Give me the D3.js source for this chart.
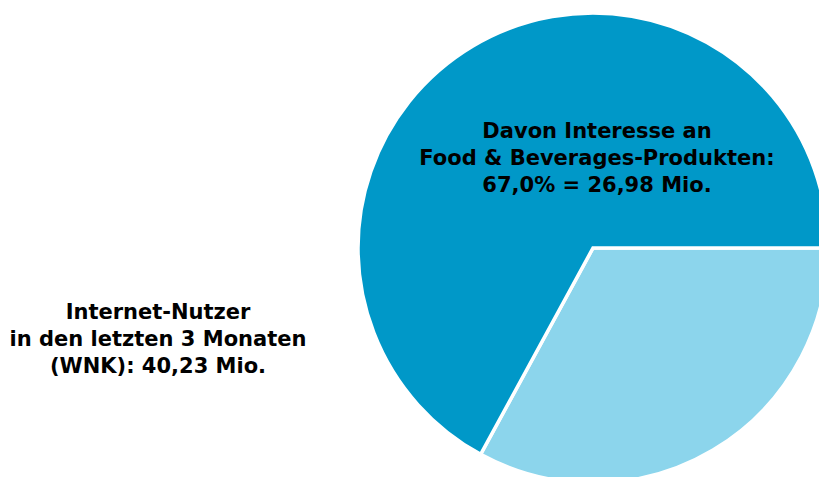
<!DOCTYPE html>
<html>
<head>
<meta charset="utf-8">
<script src="https://cdn.jsdelivr.net/npm/d3@7/dist/d3.min.js"></script>
<style>
  html, body { margin: 0; padding: 0; background: #fff; }
  svg { display: block; }
  text { font-family: "DejaVu Sans", Verdana, sans-serif; font-weight: bold; fill: #000; }
</style>
</head>
<body>
<svg id="chart" width="819" height="477"></svg>
<script>
// Internet users (WNK) split by interest in food & beverage products, in millions
const totalUsers = 40.23;
const segments = ["Kein Interesse", "Interesse an Food & Beverages"];
const segmentValues = [13.25, 26.98];
const segmentColors = ["#8cd5ec", "#0098c8"];

const interestLabel = ["Davon Interesse an", "Food & Beverages-Produkten:", "67,0% = 26,98 Mio."];
const totalLabel = ["Internet-Nutzer", "in den letzten 3 Monaten", "(WNK): 40,23 Mio."];

const svg = d3.select("#chart");
const cx = 593, cy = 248, radius = 235;

const pie = d3.pie()
  .sort(null)
  .value(d => d)
  .startAngle(Math.PI / 2)
  .endAngle(Math.PI / 2 + 2 * Math.PI);

const arc = d3.arc().innerRadius(0).outerRadius(radius);

const g = svg.append("g").attr("transform", `translate(${cx},${cy})`);

g.selectAll("path")
  .data(pie(segmentValues))
  .join("path")
  .attr("d", arc)
  .attr("fill", (d, i) => segmentColors[i])
  .attr("stroke", "#fff")
  .attr("stroke-width", 3.5)
  .attr("stroke-linejoin", "miter");

function block(lines, x, y0, step, size) {
  const t = svg.append("text")
    .attr("text-anchor", "middle")
    .style("font-size", size + "px");
  lines.forEach((s, i) => {
    t.append("tspan").attr("x", x).attr("y", y0 + i * step).text(s);
  });
}

block(interestLabel, 597, 138, 27, 21);
block(totalLabel, 158, 319, 27, 21);
</script>
</body>
</html>
